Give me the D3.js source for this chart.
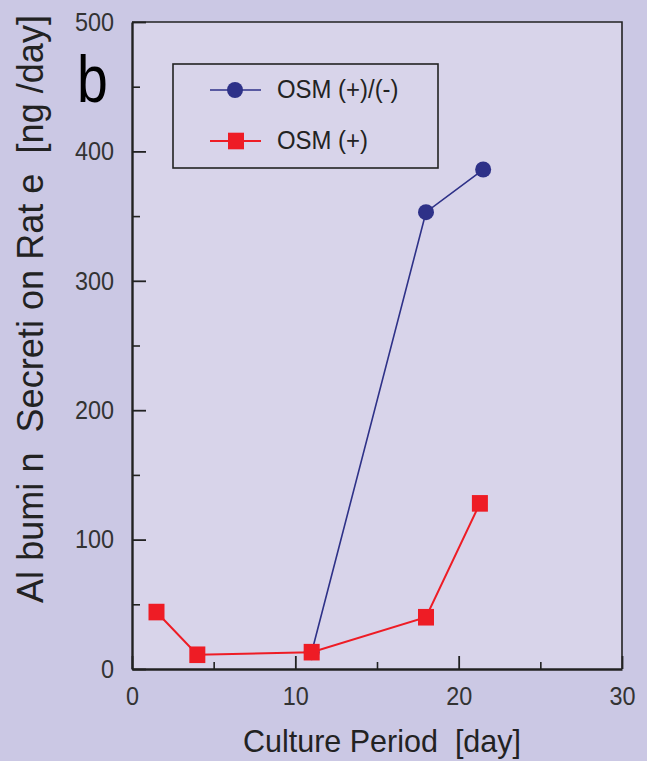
<!DOCTYPE html>
<html lang="en">
<head>
<meta charset="utf-8">
<title>Albumin secretion</title>
<script src="https://d3js.org/d3.v7.js"></script>
<style>
  body { margin: 0; background: #cbc8e4; }
  svg { display: block; }
  .pre { white-space: pre; }
</style>
</head>
<body>
<script>
// data
var blueDays = [11, 18, 21.5];
var blueVals = [13, 353, 386];
var redDays = [1.5, 4, 11, 18, 21.3];
var redVals = [44, 11, 13, 40, 128];
var seriesNames = ["OSM (+)/(-)", "OSM (+)"];
var xTicks = [0, 10, 20, 30];
var xMinor = [5, 15, 25];
var yTicks = [0, 100, 200, 300, 400, 500];
var yMinor = [50, 150, 250, 350, 450];

var W = 647, H = 761;
var m = {top: 22, right: 25, bottom: 92, left: 132};
var blue = "#2e3188", red = "#ee1c25", ink = "#222";

var svg = d3.select("body").append("svg")
  .attr("width", W)
  .attr("height", H);

svg.append("rect")
  .attr("width", W).attr("height", H)
  .attr("fill", "#cbc8e4");

var x = d3.scaleLinear().domain([0, 30]).range([m.left, W - m.right]);
var y = d3.scaleLinear().domain([0, 500]).range([H - m.bottom, m.top]);

// plot area
svg.append("rect")
  .attr("x", x(0)).attr("y", y(500))
  .attr("width", x(30) - x(0)).attr("height", y(0) - y(500))
  .attr("fill", "#d8d4ea");

// frame top/right
svg.append("path")
  .attr("d", "M" + x(0) + "," + y(500) + "H" + x(30) + "V" + y(0))
  .attr("fill", "none").attr("stroke", ink).attr("stroke-width", 1.6);

// minor ticks
svg.append("g")
  .attr("transform", "translate(" + x(0) + ",0)")
  .call(d3.axisLeft(y).tickValues(yMinor).tickSize(-8).tickFormat(""))
  .call(g => g.select(".domain").remove())
  .selectAll("line").attr("stroke", ink).attr("stroke-width", 1.6);

svg.append("g")
  .attr("transform", "translate(0," + y(0) + ")")
  .call(d3.axisBottom(x).tickValues(xMinor).tickSize(-7).tickFormat(""))
  .call(g => g.select(".domain").remove())
  .selectAll("line").attr("stroke", ink).attr("stroke-width", 1.6);

// major axes
var yAxis = svg.append("g")
  .attr("transform", "translate(" + x(0) + ",0)")
  .call(d3.axisLeft(y).tickValues(yTicks).tickSizeInner(-14).tickSizeOuter(0).tickPadding(20));

var xAxis = svg.append("g")
  .attr("transform", "translate(0," + y(0) + ")")
  .call(d3.axisBottom(x).tickValues(xTicks).tickSizeInner(-13).tickSizeOuter(0).tickPadding(18));

[yAxis, xAxis].forEach(function(a) {
  a.select(".domain").attr("stroke", ink).attr("stroke-width", 2.4);
  a.selectAll("line").attr("stroke", ink).attr("stroke-width", 1.8);
  a.selectAll("text")
    .attr("font-family", "Liberation Sans, Arial, sans-serif")
    .attr("font-size", "26px")
    .attr("fill", "#333")
    .attr("transform", "scale(0.9,1)");
});

// lines
var blueData = blueDays.map((d, i) => [d, blueVals[i]]);
var redData = redDays.map((d, i) => [d, redVals[i]]);
var line = d3.line().x(d => x(d[0])).y(d => y(d[1]));

svg.append("path").datum(blueData)
  .attr("d", line).attr("fill", "none")
  .attr("stroke", blue).attr("stroke-width", 1.6);

svg.selectAll("circle.b").data(blueData).enter()
  .append("circle")
  .attr("cx", d => x(d[0])).attr("cy", d => y(d[1]))
  .attr("r", 8).attr("fill", blue);

svg.append("path").datum(redData)
  .attr("d", line).attr("fill", "none")
  .attr("stroke", red).attr("stroke-width", 2);

svg.selectAll("rect.r").data(redData).enter()
  .append("rect")
  .attr("x", d => x(d[0]) - 8).attr("y", d => y(d[1]) - 8.3)
  .attr("width", 16).attr("height", 16.6).attr("fill", red);

// legend
var lg = svg.append("g");
lg.append("rect")
  .attr("x", 173).attr("y", 64).attr("width", 265).attr("height", 104)
  .attr("fill", "none").attr("stroke", ink).attr("stroke-width", 1.6);

[blue, red].forEach(function(c, i) {
  var ly = i === 0 ? 90 : 141;
  lg.append("line")
    .attr("x1", 210).attr("x2", 261).attr("y1", ly).attr("y2", ly)
    .attr("stroke", c).attr("stroke-width", i === 0 ? 1.6 : 2);
  if (i === 0) {
    lg.append("circle").attr("cx", 235).attr("cy", ly).attr("r", 8).attr("fill", c);
  } else {
    lg.append("rect").attr("x", 228).attr("y", ly - 8.3).attr("width", 16).attr("height", 16.6).attr("fill", c);
  }
  lg.append("text")
    .attr("transform", "translate(277," + (ly + 8) + ") scale(0.92,1)")
    .attr("font-family", "Liberation Sans, Arial, sans-serif")
    .attr("font-size", "26px")
    .attr("fill", "#222")
    .text(seriesNames[i]);
});

// panel letter
svg.append("text")
  .attr("transform", "translate(77,101.5) scale(0.84,1)")
  .attr("font-family", "Liberation Sans, Arial, sans-serif")
  .attr("font-size", "66px")
  .attr("fill", "#000")
  .text("b");

// axis titles
svg.append("text")
  .attr("class", "pre")
  .attr("x", 382).attr("y", 752)
  .attr("text-anchor", "middle")
  .attr("font-family", "Liberation Sans, Arial, sans-serif")
  .attr("font-size", "30.5px")
  .attr("fill", "#222")
  .text("Culture Period  [day]");

svg.append("text")
  .attr("class", "pre")
  .attr("transform", "translate(43,309) rotate(-90)")
  .attr("text-anchor", "middle")
  .attr("font-family", "Liberation Sans, Arial, sans-serif")
  .attr("font-size", "36px")
  .attr("fill", "#222")
  .attr("textLength", 588)
  .attr("lengthAdjust", "spacing")
  .text("Al bumi n  Secreti on Rat e  [ng /day]");
</script>
</body>
</html>
